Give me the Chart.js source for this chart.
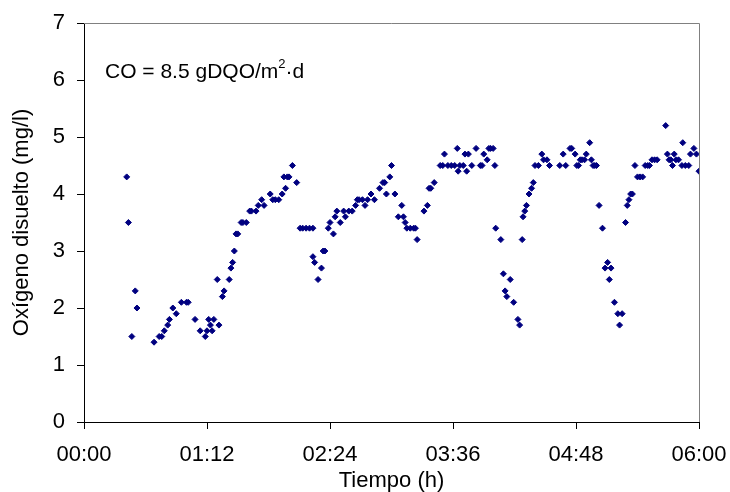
<!DOCTYPE html>
<html>
<head>
<meta charset="utf-8">
<script src="https://cdn.jsdelivr.net/npm/chart.js@4/dist/chart.umd.min.js"></script>
<style>
  html, body { margin: 0; padding: 0; background: #fff; }
  #wrap { width: 730px; height: 492px; }
</style>
</head>
<body>
<div id="wrap"><canvas id="odChart" width="730" height="492"></canvas></div>
<script>
// tiempo en minutos desde el inicio
const tiempoMin = [
  25, 26, 28, 30, 31,
  41, 44, 45.5, 47, 49, 50, 52, 54, 57, 60, 61, 65, 68, 71, 72, 73, 74, 75, 76, 78, 79,
  81, 82, 85, 86, 87, 88, 89, 90, 92, 93, 95, 97, 98, 100.7, 102, 104, 105.4, 109, 110.5,
  112, 114, 116, 117, 118, 119, 120, 122, 124.5,
  126.5, 128, 130, 132, 134, 134, 135, 137, 139, 140, 141, 143, 144, 146, 147, 148, 150,
  152, 153, 155, 157, 159, 160, 161, 163, 164.5, 166, 168, 170, 173, 175, 176, 177, 179,
  180, 182, 184, 186, 187, 188, 189, 191, 193, 194, 195, 199, 201, 202, 203, 205,
  208.5, 210, 211, 213, 215, 217, 218.5, 219, 220, 222, 223, 224, 225, 227, 229.5, 232,
  233, 234, 236, 237, 238, 239.5, 240.5,
  241, 244, 245.5, 246.5, 247.5, 249.5, 251.5, 254, 255, 256.5, 257, 258, 259, 260.5, 262,
  263, 264, 266, 268, 269, 271, 272.5, 278.5, 280.5, 282, 284.5, 285.5, 287.5, 288.5,
  289.5, 290.5, 291.5, 293, 294, 296, 297, 298, 299, 300,
  301.5, 303.5, 305, 306.5, 307.5, 308.5, 310.5, 312.5, 313.5, 315, 317, 318, 319, 320,
  321, 322.5, 324, 325.5, 327, 328.5, 330, 331, 332.5, 334, 335.5, 340.5, 341.5, 342.5,
  343.5, 344.5, 345.5, 346.5, 348, 350, 350.5, 352, 354, 355, 357, 358.5, 360
];

// oxígeno disuelto (mg/l)
const oxigeno = [
  4.3, 3.5, 1.5, 2.3, 2.0,
  1.4, 1.5, 1.5, 1.6, 1.7, 1.8, 2.0, 1.9, 2.1, 2.1, 2.1, 1.8, 1.6, 1.5, 1.6, 1.8, 1.7, 1.6, 1.8, 2.5, 1.7,
  2.2, 2.3, 2.5, 2.7, 2.8, 3.0, 3.3, 3.3, 3.5, 3.5, 3.5, 3.7, 3.7, 3.7, 3.8, 3.9, 3.8, 4.0, 3.9,
  3.9, 3.9, 4.0, 4.3, 4.1, 4.3, 4.3, 4.5, 4.2,
  3.4, 3.4, 3.4, 3.4, 3.4, 2.9, 2.8, 2.5, 2.7, 3.0, 3.0, 3.4, 3.5, 3.3, 3.6, 3.7, 3.5,
  3.7, 3.6, 3.7, 3.7, 3.8, 3.9, 3.9, 3.9, 3.8, 3.9, 4.0, 3.9, 4.1, 4.2, 4.2, 4.0, 4.3,
  4.5, 4.0, 3.6, 3.8, 3.6, 3.5, 3.4, 3.4, 3.4, 3.4, 3.2, 3.7, 3.8, 4.1, 4.1, 4.2,
  4.5, 4.5, 4.7, 4.5, 4.5, 4.5, 4.8, 4.4, 4.5, 4.5, 4.7, 4.4, 4.7, 4.5, 4.8, 4.5,
  4.5, 4.7, 4.6, 4.8, 4.8, 4.8, 4.5,
  3.4, 3.2, 2.6, 2.3, 2.2, 2.5, 2.1, 1.8, 1.7, 3.2, 3.6, 3.7, 3.8, 4.0, 4.1,
  4.2, 4.5, 4.5, 4.7, 4.6, 4.6, 4.5, 4.5, 4.7, 4.5, 4.8, 4.8, 4.7, 4.5,
  4.5, 4.6, 4.6, 4.6, 4.7, 4.9, 4.6, 4.5, 4.5, 4.5,
  3.8, 3.4, 2.7, 2.8, 2.5, 2.7, 2.1, 1.9, 1.7, 1.9, 3.5, 3.8, 3.9, 4.0,
  4.0, 4.5, 4.3, 4.3, 4.3, 4.5, 4.5, 4.5, 4.6, 4.6, 4.6, 5.2, 4.7, 4.6,
  4.6, 4.5, 4.7, 4.6, 4.6, 4.5, 4.9, 4.5, 4.5, 4.7, 4.8, 4.7, 4.4
];

const xTickLabels = ['00:00', '01:12', '02:24', '03:36', '04:48', '06:00'];
const yTicks = [0, 1, 2, 3, 4, 5, 6, 7];

const points = [];
for (let i = 0; i < tiempoMin.length; i++) {
  points.push({ x: tiempoMin[i], y: oxigeno[i] });
}

const fontFamily = '"Liberation Sans", Arial, sans-serif';

// borde gris arriba y a la derecha, y la anotación
const extras = {
  id: 'extras',
  afterDraw(chart) {
    const ctx = chart.ctx;
    const a = chart.chartArea;
    ctx.save();
    ctx.strokeStyle = '#808080';
    ctx.lineWidth = 1;
    ctx.beginPath();
    ctx.moveTo(a.left, a.top + 0.5);
    ctx.lineTo(a.right + 0.5, a.top + 0.5);
    ctx.lineTo(a.right + 0.5, a.bottom);
    ctx.stroke();

    ctx.fillStyle = '#000';
    ctx.textBaseline = 'middle';
    ctx.font = '21px ' + fontFamily;
    let x = 105;
    const y = 72;
    const main = 'CO = 8.5 gDQO/m';
    ctx.fillText(main, x, y);
    x += ctx.measureText(main).width;
    ctx.font = '13px ' + fontFamily;
    ctx.fillText('2', x, y - 8);
    x += ctx.measureText('2').width;
    ctx.font = '21px ' + fontFamily;
    ctx.fillText('\u00b7d', x, y);
    ctx.restore();
  }
};

new Chart(document.getElementById('odChart'), {
  type: 'scatter',
  data: {
    datasets: [{
      data: points,
      pointStyle: 'rectRot',
      pointRadius: 3,
      pointHoverRadius: 3,
      borderWidth: 1,
      backgroundColor: '#000080',
      borderColor: '#000080'
    }]
  },
  options: {
    responsive: false,
    animation: false,
    layout: { padding: { left: 0, top: 23, right: 31, bottom: 0 } },
    plugins: {
      legend: { display: false },
      tooltip: { enabled: false }
    },
    scales: {
      x: {
        type: 'linear',
        min: 0,
        max: 360,
        afterFit: function (scale) {
          scale.height = 70;
          scale.paddingLeft = 0;
          scale.paddingRight = 0;
        },
        afterBuildTicks: function (scale) {
          scale.ticks = xTickLabels.map(function (l, i) { return { value: i * 72 }; });
        },
        ticks: {
          color: '#000',
          padding: 13,
          maxRotation: 0,
          font: { family: fontFamily, size: 22 },
          callback: function (value, index) { return xTickLabels[index]; }
        },
        grid: { drawOnChartArea: false, drawTicks: true, tickLength: 7, color: '#000' },
        border: { color: '#000', width: 1 },
        title: {
          display: true,
          text: 'Tiempo (h)',
          color: '#000',
          font: { family: fontFamily, size: 22, lineHeight: 1 },
          padding: { top: 0, bottom: 0 }
        }
      },
      y: {
        min: 0,
        max: 7,
        afterFit: function (scale) {
          scale.width = 84;
          scale.paddingTop = 0;
          scale.paddingBottom = 0;
        },
        afterBuildTicks: function (scale) {
          scale.ticks = yTicks.map(function (v) { return { value: v }; });
        },
        ticks: {
          color: '#000',
          padding: 12,
          font: { family: fontFamily, size: 22 }
        },
        grid: { drawOnChartArea: false, drawTicks: true, tickLength: 7, color: '#000' },
        border: { color: '#000', width: 1 },
        title: {
          display: true,
          text: 'Oxígeno disuelto (mg/l)',
          color: '#000',
          font: { family: fontFamily, size: 22, lineHeight: 1 },
          padding: { top: 11, bottom: 0 }
        }
      }
    }
  },
  plugins: [extras]
});
</script>
</body>
</html>
